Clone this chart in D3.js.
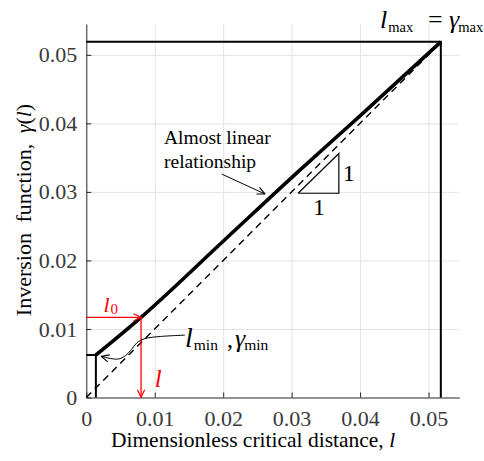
<!DOCTYPE html>
<html lang="en">
  <head>
    <meta charset="utf-8">
    <title>Inversion function</title>
    <style>
      body { margin: 0; background: #fff; }
      text { font-family: "Liberation Serif", "Times New Roman", serif; }
    </style>
  </head>
  <body>
    <div id="chart"></div>
    <script src="https://d3js.org/d3.v7.min.js"></script>
    <script type="text/javascript">
    // axis ticks
    var xTicks = [0, 0.01, 0.02, 0.03, 0.04, 0.05];
    var yTicks = [0, 0.01, 0.02, 0.03, 0.04, 0.05];

    // inversion function gamma(l)
    var curveL = [0.0014, 0.008, 0.02, 0.031, 0.04, 0.0518];
    var curveG = [0.0062, 0.0117, 0.0228, 0.0330, 0.0411, 0.0519];

    // 1:1 reference line
    var diagL = [0, 0.0518];
    var diagG = [0, 0.0518];

    // key points
    var lMin = 0.0014, gMin = 0.0062;
    var lMax = 0.0518, gMax = 0.0519;
    var l0 = 0.008, g0 = 0.0117;

    // slope triangle
    var triL = [0.03095, 0.0369, 0.0369, 0.03095];
    var triG = [0.0298, 0.0298, 0.0356, 0.0298];

    // annotation arrows (data units)
    var linArrowL = [0.0198, 0.0261];
    var linArrowG = [0.0326, 0.0297];
    var minArrowL = [0.0144, 0.0108, 0.0086, 0.0074, 0.0066, 0.0057, 0.0046, 0.0022];
    var minArrowG = [0.0091, 0.0089, 0.0086, 0.0080, 0.0070, 0.0061, 0.0056, 0.0060];

    var width = 484, height = 461;
    var pL = 86.3, pR = 459.3, pT = 24, pB = 397.5;
    var serif = "'Liberation Serif', 'Times New Roman', serif";

    var svg = d3.select("#chart")
      .append("svg")
      .attr("width", width)
      .attr("height", height)
      .attr("font-family", serif);

    var x = d3.scaleLinear().domain([0, 0.0545]).range([pL, pR]);
    var y = d3.scaleLinear().domain([0, 0.0545]).range([pB, pT]);

    var fmt = function(d) { return d === 0 ? "0" : d3.format(".2f")(d); };

    // markers
    var defs = svg.append("defs");
    function marker(id, color) {
      defs.append("marker")
        .attr("id", id)
        .attr("viewBox", "0 0 10 10")
        .attr("refX", 9.5).attr("refY", 5)
        .attr("markerWidth", 9).attr("markerHeight", 9)
        .attr("markerUnits", "userSpaceOnUse")
        .attr("orient", "auto")
        .append("path")
        .attr("d", "M1,1 L9.5,5 L1,9")
        .attr("fill", "none")
        .attr("stroke", color)
        .attr("stroke-width", 1.3);
    }
    marker("arrRed", "#ff0000");
    marker("arrBlack", "#000");

    // grid
    var gGrid = svg.append("g");
    gGrid.append("g")
      .attr("transform", "translate(0," + pB + ")")
      .call(d3.axisBottom(x).tickValues(xTicks.slice(1)).tickSize(-(pB - pT)).tickFormat(""))
      .call(function(g) { g.select(".domain").remove(); })
      .selectAll("line").attr("stroke", "#e3e3e3").attr("stroke-width", 1);
    gGrid.append("g")
      .attr("transform", "translate(" + pL + ",0)")
      .call(d3.axisLeft(y).tickValues(yTicks.slice(1)).tickSize(-(pR - pL)).tickFormat(""))
      .call(function(g) { g.select(".domain").remove(); })
      .selectAll("line").attr("stroke", "#e3e3e3").attr("stroke-width", 1);

    // axes
    var gx = svg.append("g")
      .attr("transform", "translate(0," + pB + ")")
      .call(d3.axisBottom(x).tickValues(xTicks).tickSize(-5).tickSizeOuter(0).tickPadding(13).tickFormat(fmt));
    var gy = svg.append("g")
      .attr("transform", "translate(" + pL + ",0)")
      .call(d3.axisLeft(y).tickValues(yTicks).tickSize(-5).tickSizeOuter(0).tickPadding(9).tickFormat(fmt));
    [gx, gy].forEach(function(g) {
      g.attr("font-family", serif).attr("font-size", 22);
      g.select(".domain").attr("stroke", "#262626").attr("stroke-width", 1);
      g.selectAll(".tick line").attr("stroke", "#262626");
      g.selectAll(".tick text").attr("fill", "#3a3a3a");
    });

    var line = d3.line().x(function(d) { return x(d[0]); }).y(function(d) { return y(d[1]); });

    // bounding lines
    var gBox = svg.append("g").attr("fill", "none").attr("stroke", "#000").attr("stroke-width", 2);
    gBox.append("path").attr("d", line([[0, gMax], [lMax, gMax], [lMax, 0]]));
    gBox.append("path").attr("d", line([[0, gMin], [lMin, gMin], [lMin, 0]]));

    // dashed 1:1 line
    svg.append("path")
      .attr("d", line(d3.zip(diagL, diagG)))
      .attr("fill", "none")
      .attr("stroke", "#000")
      .attr("stroke-width", 1.4)
      .attr("stroke-dasharray", "7,5");

    // inversion curve
    svg.append("path")
      .attr("d", line.curve(d3.curveMonotoneX)(d3.zip(curveL, curveG)))
      .attr("fill", "none")
      .attr("stroke", "#000")
      .attr("stroke-width", 3.6);
    line.curve(d3.curveLinear);

    // slope triangle
    svg.append("path")
      .attr("d", line(d3.zip(triL, triG)))
      .attr("fill", "none")
      .attr("stroke", "#000")
      .attr("stroke-width", 1.2);
    svg.append("text").attr("x", x(0.0369) + 4).attr("y", y(0.0327) + 8)
      .attr("font-size", 24).text("1");
    svg.append("text").attr("x", x(0.0340)).attr("y", y(0.0298) + 22)
      .attr("text-anchor", "middle").attr("font-size", 24).text("1");

    // red arrows
    svg.append("path")
      .attr("d", line([[0, g0], [l0, g0]]))
      .attr("stroke", "#ff0000").attr("stroke-width", 1.3)
      .attr("marker-end", "url(#arrRed)");
    svg.append("path")
      .attr("d", line([[l0, g0], [l0, 0]]))
      .attr("stroke", "#ff0000").attr("stroke-width", 1.3)
      .attr("marker-end", "url(#arrRed)");
    svg.append("text").attr("x", 103.5).attr("y", 311.5).attr("fill", "#ff0000")
      .attr("font-size", 22).attr("font-style", "italic").text("l");
    svg.append("text").attr("x", 110.5).attr("y", 313.5).attr("fill", "#ff0000")
      .attr("font-size", 15).text("0");
    svg.append("text").attr("x", x(0.01)).attr("y", y(0.0016))
      .attr("fill", "#ff0000").attr("font-size", 25).attr("font-style", "italic").text("l");

    // "Almost linear relationship"
    svg.append("path")
      .attr("d", line(d3.zip(linArrowL, linArrowG)))
      .attr("stroke", "#000").attr("stroke-width", 1)
      .attr("marker-end", "url(#arrBlack)");
    var tl = svg.append("text").attr("x", 164).attr("y", 144).attr("font-size", 19.5);
    tl.append("tspan").attr("x", 164).text("Almost linear");
    tl.append("tspan").attr("x", 164).attr("dy", 24).text("relationship");

    // lmin, gamma_min annotation
    svg.append("path")
      .attr("d", line.curve(d3.curveCatmullRom)(d3.zip(minArrowL, minArrowG)))
      .attr("fill", "none")
      .attr("stroke", "#000").attr("stroke-width", 1)
      .attr("marker-end", "url(#arrBlack)");
    line.curve(d3.curveLinear);

    // symbol with subscript: main glyph then a lowered small tspan right after it
    function symbol(px, py, main, sub, size, subSize, dx) {
      var t = svg.append("text").attr("x", px).attr("y", py).attr("font-size", size);
      t.append("tspan").attr("font-style", "italic").text(main);
      t.append("tspan").attr("dx", dx).attr("dy", 3.5).attr("font-size", subSize).text(sub);
      return t;
    }
    symbol(185, 346.5, "l", "min", 28, 15.5, 1);
    svg.append("text").attr("x", 227).attr("y", 346.5).attr("font-size", 24).text(",");
    symbol(235, 346.5, "γ", "min", 26, 15.5, -1);

    // lmax = gamma_max
    symbol(380, 28, "l", "max", 26, 14.5, 1);
    svg.append("text").attr("x", 428).attr("y", 28).attr("font-size", 26).text("=");
    symbol(449, 28, "γ", "max", 26, 14.5, -1);

    // axis labels
    var xl = svg.append("text").attr("x", 253).attr("y", 447)
      .attr("text-anchor", "middle").attr("font-size", 21.5);
    xl.append("tspan").text("Dimensionless critical distance, ");
    xl.append("tspan").attr("font-style", "italic").text("l");

    var yl = svg.append("text")
      .attr("transform", "translate(31,210) rotate(-90)")
      .attr("text-anchor", "middle").attr("font-size", 22)
      .attr("word-spacing", 5);
    yl.append("tspan").text("Inversion function, ");
    yl.append("tspan").attr("font-style", "italic").text("γ");
    yl.append("tspan").text("(");
    yl.append("tspan").attr("font-style", "italic").text("l");
    yl.append("tspan").text(")");
    </script>
  </body>
</html>
